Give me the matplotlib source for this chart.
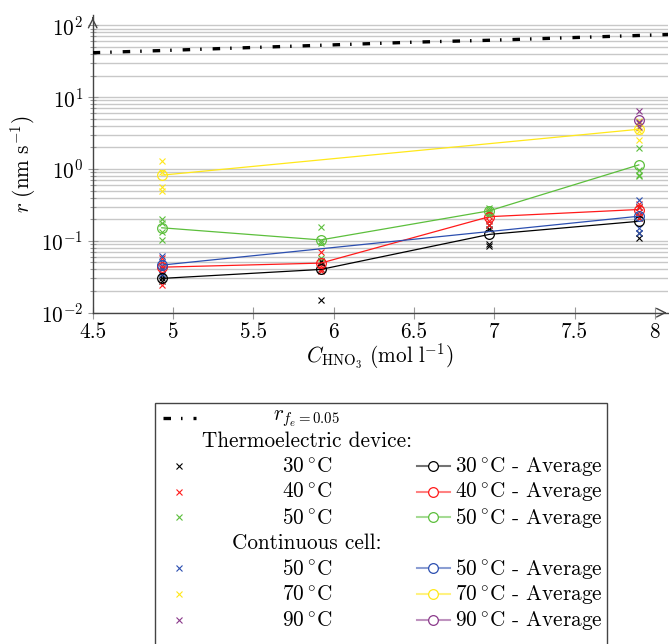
import matplotlib
matplotlib.use("Agg")
import matplotlib.pyplot as plt
from matplotlib.lines import Line2D
from matplotlib.patches import Rectangle

plt.rcParams["font.family"] = "serif"
plt.rcParams["font.serif"] = ["cmr10"]
plt.rcParams["mathtext.fontset"] = "cm"
plt.rcParams["axes.formatter.use_mathtext"] = True
plt.rcParams["font.size"] = 15.3
plt.rcParams["lines.scale_dashes"] = False

# limiting rate curve r_{fe=0.05}
rfe_conc = [4.5, 5.0, 5.5, 6.0, 6.5, 7.0, 7.5, 8.0, 8.1]
rfe_r = [41.5, 45.0, 49.1, 53.4, 58.2, 62.1, 67.5, 73.3, 74.5]

# thermoelectric device, single measurements
te30_conc = [4.93, 4.93, 4.93, 5.92, 5.92, 5.92, 5.92, 6.97, 6.97, 6.97, 6.97, 7.90, 7.90, 7.90, 7.90]
te30_r = [0.033, 0.030, 0.028, 0.053, 0.050, 0.040, 0.015, 0.165, 0.145, 0.090, 0.085, 0.30, 0.21, 0.13, 0.11]
te40_conc = [4.93, 4.93, 4.93, 4.93, 5.92, 5.92, 5.92, 5.92, 6.97, 6.97, 6.97, 6.97, 7.90, 7.90, 7.90, 7.90]
te40_r = [0.058, 0.045, 0.042, 0.024, 0.071, 0.044, 0.040, 0.038, 0.25, 0.22, 0.19, 0.166, 0.33, 0.30, 0.25, 0.21]
te50_conc = [4.93, 4.93, 4.93, 4.93, 5.92, 5.92, 5.92, 5.92, 6.97, 6.97, 6.97, 6.97, 7.90, 7.90, 7.90, 7.90]
te50_r = [0.203, 0.179, 0.131, 0.103, 0.157, 0.100, 0.094, 0.057, 0.285, 0.27, 0.255, 0.24, 1.94, 0.97, 0.83, 0.79]

# thermoelectric device, averages
te_avg_conc = [4.93, 5.92, 6.97, 7.90]
te30_avg = [0.030, 0.040, 0.123, 0.187]
te40_avg = [0.043, 0.049, 0.217, 0.273]
te50_avg = [0.152, 0.103, 0.262, 1.14]

# continuous cell, single measurements
cc50_conc = [4.93, 4.93, 4.93, 4.93, 7.90, 7.90, 7.90, 7.90]
cc50_r = [0.062, 0.050, 0.040, 0.035, 0.37, 0.23, 0.15, 0.13]
cc70_conc = [4.93, 4.93, 4.93, 4.93, 7.90, 7.90, 7.90, 7.90]
cc70_r = [1.31, 0.90, 0.57, 0.49, 4.6, 3.7, 3.4, 2.54]
cc90_conc = [7.90, 7.90, 7.90, 7.90]
cc90_r = [6.4, 4.5, 4.3, 3.8]

# continuous cell, averages
cc_avg_conc = [4.93, 7.90]
cc50_avg = [0.046, 0.22]
cc70_avg = [0.82, 3.57]
cc90_avg_conc = [7.90]
cc90_avg = [4.8]

BLACK = "#000000"
RED = "#ff1a1a"
GREEN = "#5cbf3c"
BLUE = "#2c4fb0"
YELLOW = "#ffe81a"
PURPLE = "#8b3a8b"

series = [
    ("te30", te30_conc, te30_r, te_avg_conc, te30_avg, BLACK),
    ("te40", te40_conc, te40_r, te_avg_conc, te40_avg, RED),
    ("te50", te50_conc, te50_r, te_avg_conc, te50_avg, GREEN),
    ("cc50", cc50_conc, cc50_r, cc_avg_conc, cc50_avg, BLUE),
    ("cc70", cc70_conc, cc70_r, cc_avg_conc, cc70_avg, YELLOW),
    ("cc90", cc90_conc, cc90_r, cc90_avg_conc, cc90_avg, PURPLE),
]

W, H = 669, 644
fig = plt.figure(figsize=(W / 100, H / 100), dpi=100)
ax = fig.add_axes([92.7 / W, 1 - 312.7 / H, 575 / W, 297.7 / H])

DASHDOT = (0, (5.4, 7.2, 1.1, 7.9))
ax.plot(rfe_conc, rfe_r, color="black", lw=2.4, ls=DASHDOT,
        dash_capstyle="butt", zorder=3)

for name, c, r, ac, av, col in series:
    ax.plot(c, r, ls="none", marker="x", ms=4.2, mew=0.8, color=col, zorder=4)
    ax.plot(ac, av, ls="-", lw=0.9, marker="o", ms=7, mew=0.9,
            mfc="none", color=col, zorder=5)

ax.set_yscale("log")
ax.set_xlim(4.5, 8.08)
ax.set_ylim(0.01, 139)
ax.set_xticks([4.5, 5, 5.5, 6, 6.5, 7, 7.5, 8])
ax.set_xticklabels(["4.5", "5", "5.5", "6", "6.5", "7", "7.5", "8"])
ax.grid(True, which="both", axis="y", color="#c8c8c8", lw=1.0, zorder=0)
ax.set_axisbelow(True)
ax.spines["top"].set_visible(False)
ax.spines["right"].set_visible(False)
for s in ("left", "bottom"):
    ax.spines[s].set_color("#444444")
    ax.spines[s].set_linewidth(1.0)
ax.tick_params(axis="x", direction="inout", length=8, width=0.8, color="#999999", pad=3)
ax.tick_params(axis="y", which="major", direction="inout", length=7, width=0.8, color="#999999")
ax.tick_params(axis="y", which="minor", direction="inout", length=4, width=0.8, color="#999999")

# arrow heads on the axes
ax.annotate("", xy=(1.003, 0), xytext=(0.99, 0), xycoords="axes fraction",
            arrowprops=dict(arrowstyle="->", color="#444444", lw=1.0), annotation_clip=False)
ax.annotate("", xy=(0, 1.0), xytext=(0, 0.98), xycoords="axes fraction",
            arrowprops=dict(arrowstyle="->", color="#444444", lw=1.0), annotation_clip=False)

ax.set_xlabel(r"$C_{\mathrm{HNO_3}}\ (\mathrm{mol\ l^{-1}})$", labelpad=0)
ax.set_ylabel(r"$r\ (\mathrm{nm\ s^{-1}})$", labelpad=2)

# legend box drawn by hand (pgfplots style, two columns, centred labels)
def fx(x):
    return x / W


def fy(y):
    return 1 - y / H


fig.patches.append(Rectangle((fx(155), fy(700)), fx(607) - fx(155), fy(403) - fy(700),
                             transform=fig.transFigure, fill=False,
                             edgecolor="#444444", lw=1.0))

col1_text = 307
mark_x = 179.3
line_x0, line_x1 = 416.7, 450
text2_x = 455

fig.add_artist(Line2D([fx(163), fx(196)], [fy(417.7)] * 2, color="black", lw=2.4,
                      ls=(0, (5.4, 7.2, 1.1, 7.9)), dash_capstyle="butt"))
fig.text(fx(col1_text), fy(419), r"$r_{f_e=0.05}$", ha="center", va="center")
fig.text(fx(col1_text), fy(441), "Thermoelectric device:", ha="center", va="center")
fig.text(fx(col1_text), fy(543.7), "Continuous cell:", ha="center", va="center")

row_y = [466, 491.7, 517.3, 568.3, 594.3, 620.3]
temps = ["30", "40", "50", "50", "70", "90"]
for (name, c, r, ac, av, col), y, t in zip(series, row_y, temps):
    lab = r"$%s\,^{\circ}\mathrm{C}$" % t
    fig.add_artist(Line2D([fx(mark_x)], [fy(y)], ls="none", marker="x", ms=4.2,
                          mew=0.8, color=col))
    fig.text(fx(col1_text), fy(y + 1), lab, ha="center", va="center")
    fig.add_artist(Line2D([fx(line_x0), fx(line_x1)], [fy(y)] * 2, color=col, lw=1.5,
                          alpha=0.55))
    fig.add_artist(Line2D([fx((line_x0 + line_x1) / 2)], [fy(y)], ls="none", marker="o",
                          ms=7, mew=0.9, mfc="white", color=col))
    fig.text(fx(text2_x), fy(y + 1), lab + " - Average", ha="left", va="center")

fig.savefig("out.png", dpi=100)
